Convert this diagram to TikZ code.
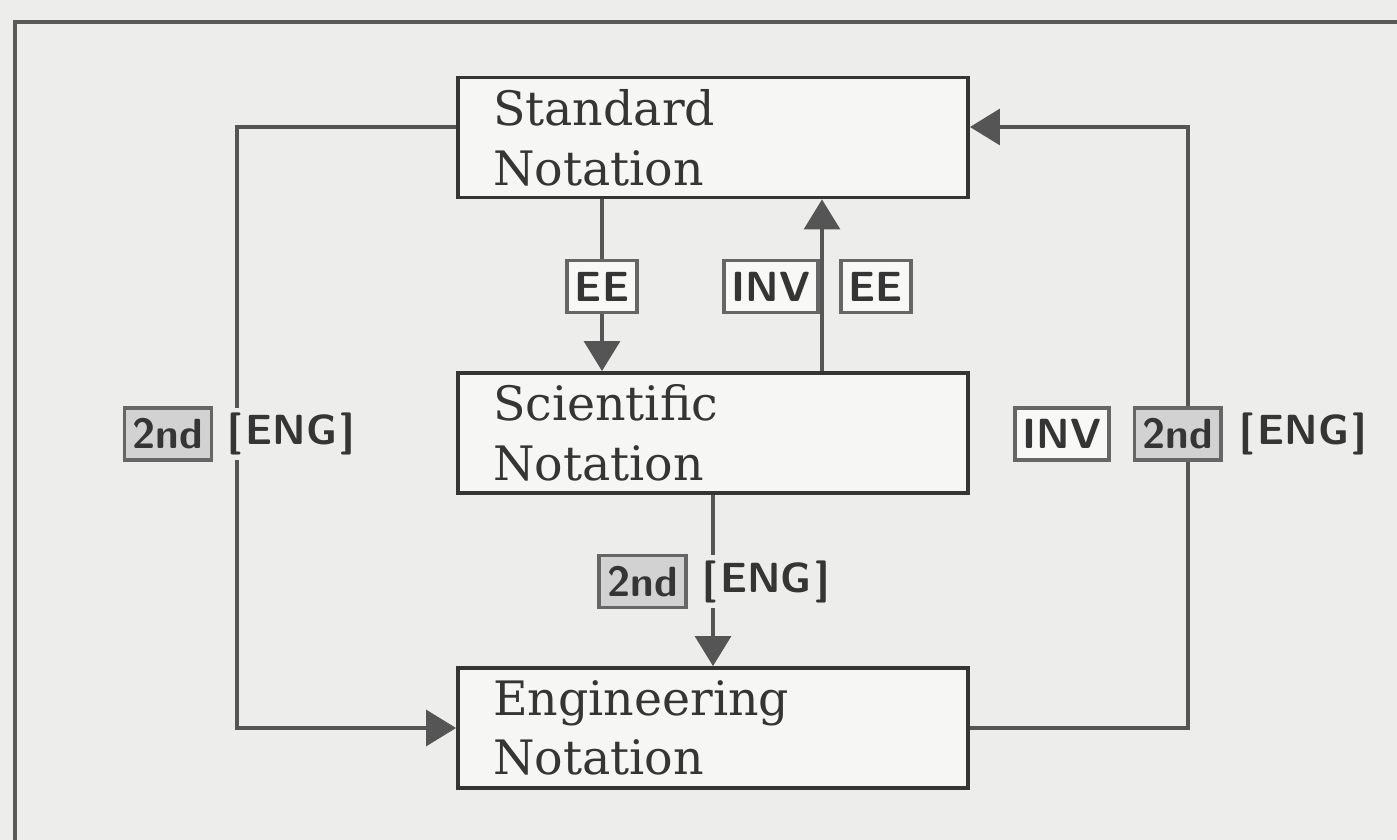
\documentclass[tikz,border=0pt]{standalone}
\usepackage{fontspec}
\newfontfamily\boxfont{DejaVu Serif}
\usetikzlibrary{arrows.meta,positioning}
\definecolor{paper}{HTML}{EDEEEC}
\definecolor{ink}{HTML}{353535}
\definecolor{wirec}{HTML}{555555}

\begin{document}
\begin{tikzpicture}[>={Triangle[width=0.36cm,length=0.3cm]},
  notation/.style={draw=ink, line width=1.1pt, fill=paper!50!white, minimum width=5.1cm, minimum height=1.2cm,
    text width=4.4cm, align=left, inner xsep=0.35cm, text=ink, font=\boxfont\fontsize{13.5}{17}\selectfont},
  key/.style={draw=gray!80!black, line width=1pt, fill=paper!40!white, inner xsep=0.08cm, inner ysep=0pt,
    minimum height=0.52cm, text=ink, font=\sffamily\bfseries\fontsize{12}{12}\selectfont},
  shiftkey/.style={key, fill=gray!35},
  fnname/.style={fill=paper, inner xsep=0.02cm, inner ysep=0.05cm, text=ink,
    font=\sffamily\bfseries\fontsize{12}{12}\selectfont},
  wire/.style={draw=wirec, line width=0.9pt}]
  \useasboundingbox[fill=paper] (0,0) rectangle (13.97,8.40);
  \draw[gray!70!black, line width=1.3pt] (0.15,-0.2) -- (0.15,8.18) -- (14.2,8.18);

  % the three display modes
  \node[notation] (std) at (7.13,7.025) {Standard\\Notation};
  \node[notation] (sci) at (7.13,4.07) {Scientific\\Notation};
  \node[notation] (eng) at (7.13,1.12) {Engineering\\Notation};

  \coordinate (laneL) at (2.37,7.13);
  \coordinate (laneR) at (11.88,7.13);
  \coordinate (dnA) at (6.02,0);
  \coordinate (upA) at (8.22,0);

  \draw[wire,->] (std.west |- laneL) -| (laneL |- eng.west) -- (eng.west);
  \draw[wire,->] (eng.east) -| (laneR) -- (std.east |- laneR);
  \draw[wire,->] (std.south -| dnA) -- (sci.north -| dnA);
  \draw[wire,->] (sci.north -| upA) -- (std.south -| upA);
  \draw[wire,->] (sci.south) -- (eng.north);

  % key sequences
  \node[key] (ee) at (6.02,5.535) {EE};
  \node[key, anchor=east] (inv) at (8.20,5.535) {INV};
  \node[key, right=0.19cm of inv] (ee2) {EE};

  \node[shiftkey] (snd1) at (1.68,4.06) {2nd};
  \node[fnname, right=0.12cm of snd1] (eng1) {[\kern1pt ENG\kern1pt]};

  \node[key] (inv2) at (10.62,4.06) {INV};
  \node[shiftkey, right=0.22cm of inv2] (snd2) {2nd};
  \node[fnname, right=0.14cm of snd2] (eng2) {[\kern1pt ENG\kern1pt]};

  \node[shiftkey] (snd3) at (6.425,2.585) {2nd};
  \node[fnname, right=0.12cm of snd3] (eng3) {[\kern1pt ENG\kern1pt]};
\end{tikzpicture}
\end{document}
